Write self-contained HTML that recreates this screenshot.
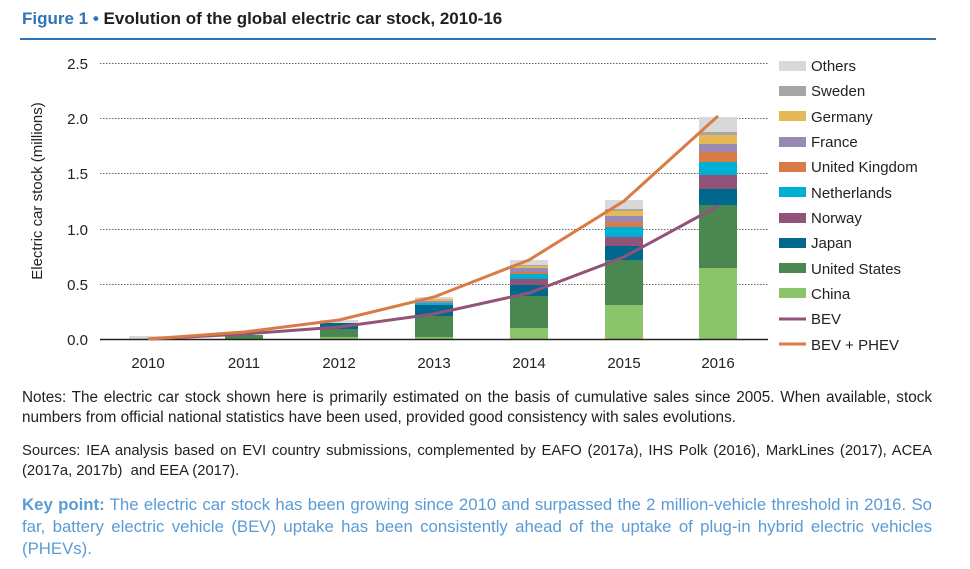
<!DOCTYPE html>
<html><head><style>
body{margin:0;width:970px;height:569px;background:#fff;font-family:"Liberation Sans",sans-serif;position:relative;overflow:hidden}
.t{position:absolute;white-space:nowrap}
</style></head><body>
<div class="t" style="left:22px;top:9px;font-size:17px;font-weight:bold;color:#1f1f1f"><span style="color:#2e75b6">Figure 1 •</span> Evolution of the global electric car stock, 2010-16</div>
<div style="position:absolute;left:20px;top:38px;width:916px;height:2px;background:#2e75b6"></div>
<svg width="970" height="569" style="position:absolute;left:0;top:0" font-family="Liberation Sans, sans-serif">
<g stroke="#666" stroke-dasharray="1.5,1.5" stroke-width="1">
<line x1="100" x2="768" y1="63.5" y2="63.5"/><line x1="100" x2="768" y1="118.5" y2="118.5"/><line x1="100" x2="768" y1="173.5" y2="173.5"/><line x1="100" x2="768" y1="229.5" y2="229.5"/><line x1="100" x2="768" y1="284.5" y2="284.5"/>
</g>
<g font-size="15" fill="#222" text-anchor="end">
<text x="88" y="69">2.5</text><text x="88" y="124">2.0</text><text x="88" y="179">1.5</text><text x="88" y="235">1.0</text><text x="88" y="290">0.5</text><text x="88" y="345">0.0</text>
</g>
<text transform="translate(42,191) rotate(-90)" font-size="15" text-anchor="middle" fill="#222">Electric car stock (millions)</text>
<g font-size="15" fill="#222" text-anchor="middle">
<text x="148" y="368">2010</text><text x="244" y="368">2011</text><text x="339" y="368">2012</text><text x="434" y="368">2013</text><text x="529" y="368">2014</text><text x="624" y="368">2015</text><text x="718" y="368">2016</text>
</g>
<g>
<rect x="129" y="336" width="38" height="3" fill="#d9d9d9"/>
<rect x="225" y="335" width="38" height="4" fill="#4a8751"/>
<rect x="320" y="320" width="38" height="3" fill="#d9d9d9"/><rect x="320" y="323" width="38" height="6" fill="#00678f"/><rect x="320" y="329" width="38" height="8" fill="#4a8751"/><rect x="320" y="337" width="38" height="2" fill="#8cc46a"/>
<rect x="415" y="297" width="38" height="2" fill="#d9d9d9"/><rect x="415" y="299" width="38" height="2" fill="#e6b955"/><rect x="415" y="301" width="38" height="2" fill="#978bb5"/><rect x="415" y="303" width="38" height="2" fill="#00b0d4"/><rect x="415" y="305" width="38" height="11" fill="#00678f"/><rect x="415" y="316" width="38" height="21" fill="#4a8751"/><rect x="415" y="337" width="38" height="2" fill="#8cc46a"/>
<rect x="510" y="260" width="38" height="5" fill="#d9d9d9"/><rect x="510" y="265" width="38" height="1" fill="#a6a6a6"/><rect x="510" y="266" width="38" height="2" fill="#e6b955"/><rect x="510" y="268" width="38" height="4" fill="#978bb5"/><rect x="510" y="272" width="38" height="2" fill="#d97b45"/><rect x="510" y="274" width="38" height="5" fill="#00b0d4"/><rect x="510" y="279" width="38" height="6" fill="#925379"/><rect x="510" y="285" width="38" height="11" fill="#00678f"/><rect x="510" y="296" width="38" height="32" fill="#4a8751"/><rect x="510" y="328" width="38" height="11" fill="#8cc46a"/>
<rect x="605" y="200" width="38" height="9" fill="#d9d9d9"/><rect x="605" y="209" width="38" height="2" fill="#a6a6a6"/><rect x="605" y="211" width="38" height="5" fill="#e6b955"/><rect x="605" y="216" width="38" height="6" fill="#978bb5"/><rect x="605" y="222" width="38" height="5" fill="#d97b45"/><rect x="605" y="227" width="38" height="10" fill="#00b0d4"/><rect x="605" y="237" width="38" height="9" fill="#925379"/><rect x="605" y="246" width="38" height="14" fill="#00678f"/><rect x="605" y="260" width="38" height="45" fill="#4a8751"/><rect x="605" y="305" width="38" height="34" fill="#8cc46a"/>
<rect x="699" y="117" width="38" height="15" fill="#d9d9d9"/><rect x="699" y="132" width="38" height="3" fill="#a6a6a6"/><rect x="699" y="135" width="38" height="9" fill="#e6b955"/><rect x="699" y="144" width="38" height="8" fill="#978bb5"/><rect x="699" y="152" width="38" height="10" fill="#d97b45"/><rect x="699" y="162" width="38" height="13" fill="#00b0d4"/><rect x="699" y="175" width="38" height="14" fill="#925379"/><rect x="699" y="189" width="38" height="16" fill="#00678f"/><rect x="699" y="205" width="38" height="63" fill="#4a8751"/><rect x="699" y="268" width="38" height="71" fill="#8cc46a"/>
</g>
<line x1="100" x2="768" y1="339.5" y2="339.5" stroke="#222" stroke-width="1.5"/>
<polyline points="148,339 244,334 339,327 434,314 529,293 624,257 718,206" fill="none" stroke="#925379" stroke-width="3"/>
<polyline points="148,339 244,332 339,320 434,297 529,260 624,201 718,116" fill="none" stroke="#d97b45" stroke-width="3"/>
<g font-size="15" fill="#222">
<rect x="779" y="61" width="27" height="10" fill="#d9d9d9"/><text x="811" y="71">Others</text>
<rect x="779" y="86" width="27" height="10" fill="#a6a6a6"/><text x="811" y="96">Sweden</text>
<rect x="779" y="111" width="27" height="10" fill="#e6b955"/><text x="811" y="122">Germany</text>
<rect x="779" y="137" width="27" height="10" fill="#978bb5"/><text x="811" y="147">France</text>
<rect x="779" y="162" width="27" height="10" fill="#d97b45"/><text x="811" y="172">United Kingdom</text>
<rect x="779" y="187" width="27" height="10" fill="#00b0d4"/><text x="811" y="198">Netherlands</text>
<rect x="779" y="213" width="27" height="10" fill="#925379"/><text x="811" y="223">Norway</text>
<rect x="779" y="238" width="27" height="10" fill="#00678f"/><text x="811" y="248">Japan</text>
<rect x="779" y="263" width="27" height="10" fill="#4a8751"/><text x="811" y="274">United States</text>
<rect x="779" y="288" width="27" height="10" fill="#8cc46a"/><text x="811" y="299">China</text>
<line x1="779" x2="806" y1="319" y2="319" stroke="#925379" stroke-width="3"/><text x="811" y="324">BEV</text>
<line x1="779" x2="806" y1="344" y2="344" stroke="#d97b45" stroke-width="3"/><text x="811" y="350">BEV + PHEV</text>
</g>
</svg>
<div class="t" style="left:22px;top:388px;width:910px;white-space:normal;font-size:15.3px;line-height:20px;color:#1f1f1f;text-align:justify;text-align-last:left">Notes: The electric car stock shown here is primarily estimated on the basis of cumulative sales since 2005. When available, stock numbers from official national statistics have been used, provided good consistency with sales evolutions.</div>
<div class="t" style="left:22px;top:441px;width:910px;white-space:normal;font-size:14.8px;line-height:20px;color:#1f1f1f;text-align:justify;text-align-last:left">Sources: IEA analysis based on EVI country submissions, complemented by EAFO (2017a), IHS Polk (2016), MarkLines (2017), ACEA (2017a, 2017b)&nbsp; and EEA (2017).</div>
<div class="t" style="left:22px;top:494px;width:910px;white-space:normal;font-size:16.8px;line-height:22px;color:#5b9bd5;text-align:justify;text-align-last:left"><b>Key point:</b> The electric car stock has been growing since 2010 and surpassed the 2 million-vehicle threshold in 2016. So far, battery electric vehicle (BEV) uptake has been consistently ahead of the uptake of plug-in hybrid electric vehicles (PHEVs).</div>
</body></html>
